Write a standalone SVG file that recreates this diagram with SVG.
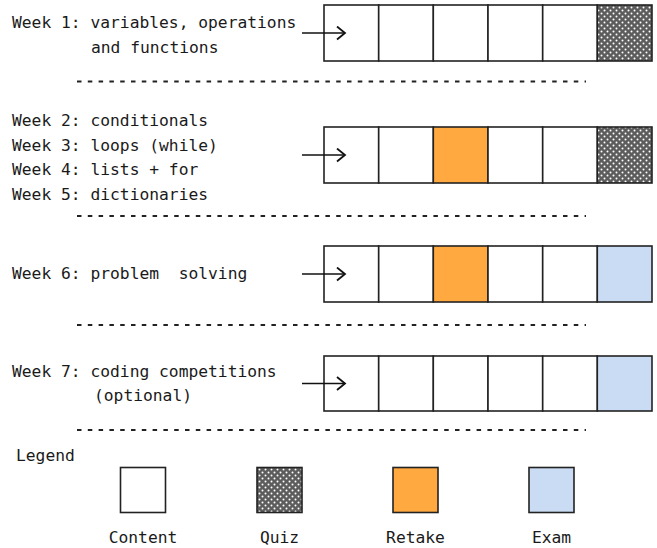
<svg xmlns="http://www.w3.org/2000/svg" width="657" height="548" viewBox="0 0 657 548">
  <style>
    text { font-family: "DejaVu Sans Mono", "Liberation Mono", monospace; font-size: 16.3px; fill: #1a1a1a; }
    .cell { stroke: #222; stroke-width: 1.6; fill: #fff; }
    .content { fill: #fff; }
    .quiz { fill: url(#dots); }
    .retake { fill: #ffa940; }
    .exam { fill: #c9dcf3; }
    .sep { stroke: #222; stroke-width: 2; stroke-dasharray: 4.5 6.3; fill: none; }
    .arrow { stroke: #111; stroke-width: 1.6; fill: none; }
  </style>
  <defs>
    <pattern id="dots" width="6" height="6" patternUnits="userSpaceOnUse">
      <rect width="6" height="6" fill="#5c5c5c"/>
      <circle cx="1.5" cy="1.5" r="1" fill="#fff"/>
      <circle cx="4.5" cy="4.5" r="1" fill="#fff"/>
    </pattern>
    <marker id="head" markerWidth="12" markerHeight="16" refX="9" refY="7.5" orient="auto" markerUnits="userSpaceOnUse">
      <path d="M1,1 L9,7.5 L1,14" fill="none" stroke="#111" stroke-width="1.8"/>
    </marker>
  </defs>

  <g id="week1">
    <text x="12" y="28">Week 1: variables, operations</text>
    <text x="91" y="53">and functions</text>
    <rect class="cell content" x="324" y="5" width="54.7" height="56"/>
    <rect class="cell content" x="378.7" y="5" width="54.7" height="56"/>
    <rect class="cell content" x="433.3" y="5" width="54.7" height="56"/>
    <rect class="cell content" x="488" y="5" width="54.7" height="56"/>
    <rect class="cell content" x="542.7" y="5" width="54.7" height="56"/>
    <rect class="cell quiz" x="597.3" y="5" width="54.7" height="56"/>
  </g>

  <g id="week2to5">
    <text x="12" y="126">Week 2: conditionals</text>
    <text x="12" y="150.5">Week 3: loops (while)</text>
    <text x="12" y="175">Week 4: lists + for</text>
    <text x="12" y="199.5">Week 5: dictionaries</text>
    <rect class="cell content" x="324" y="127" width="54.7" height="56"/>
    <rect class="cell content" x="378.7" y="127" width="54.7" height="56"/>
    <rect class="cell retake" x="433.3" y="127" width="54.7" height="56"/>
    <rect class="cell content" x="488" y="127" width="54.7" height="56"/>
    <rect class="cell content" x="542.7" y="127" width="54.7" height="56"/>
    <rect class="cell quiz" x="597.3" y="127" width="54.7" height="56"/>
  </g>

  <g id="week6">
    <text x="12" y="279" xml:space="preserve">Week 6: problem  solving</text>
    <rect class="cell content" x="324" y="246" width="54.7" height="56"/>
    <rect class="cell content" x="378.7" y="246" width="54.7" height="56"/>
    <rect class="cell retake" x="433.3" y="246" width="54.7" height="56"/>
    <rect class="cell content" x="488" y="246" width="54.7" height="56"/>
    <rect class="cell content" x="542.7" y="246" width="54.7" height="56"/>
    <rect class="cell exam" x="597.3" y="246" width="54.7" height="56"/>
  </g>

  <g id="week7">
    <text x="12" y="377">Week 7: coding competitions</text>
    <text x="94" y="401">(optional)</text>
    <rect class="cell content" x="324" y="356" width="54.7" height="55"/>
    <rect class="cell content" x="378.7" y="356" width="54.7" height="55"/>
    <rect class="cell content" x="433.3" y="356" width="54.7" height="55"/>
    <rect class="cell content" x="488" y="356" width="54.7" height="55"/>
    <rect class="cell content" x="542.7" y="356" width="54.7" height="55"/>
    <rect class="cell exam" x="597.3" y="356" width="54.7" height="55"/>
  </g>

  <g id="connectors">
    <path class="arrow" d="M302,33 H345" marker-end="url(#head)"/>
    <path class="arrow" d="M302,155 H345" marker-end="url(#head)"/>
    <path class="arrow" d="M302,274 H345" marker-end="url(#head)"/>
    <path class="arrow" d="M302,383.5 H345" marker-end="url(#head)"/>
  </g>

  <g id="separators">
    <line class="sep" x1="77" y1="81.5" x2="586" y2="81.5"/>
    <line class="sep" x1="77" y1="216" x2="586" y2="216"/>
    <line class="sep" x1="77" y1="325" x2="586" y2="325"/>
    <line class="sep" x1="77" y1="430" x2="586" y2="430"/>
  </g>

  <g id="legend">
    <text x="16" y="461">Legend</text>
    <g id="legend-content">
      <rect class="cell content" x="120.5" y="467.5" width="45" height="45"/>
      <text x="143" y="543" text-anchor="middle">Content</text>
    </g>
    <g id="legend-quiz">
      <rect class="cell quiz" x="257" y="467.5" width="45" height="45"/>
      <text x="279.5" y="543" text-anchor="middle">Quiz</text>
    </g>
    <g id="legend-retake">
      <rect class="cell retake" x="393" y="467.5" width="45" height="45"/>
      <text x="415.5" y="543" text-anchor="middle">Retake</text>
    </g>
    <g id="legend-exam">
      <rect class="cell exam" x="529" y="467.5" width="45" height="45"/>
      <text x="551.5" y="543" text-anchor="middle">Exam</text>
    </g>
  </g>
</svg>
